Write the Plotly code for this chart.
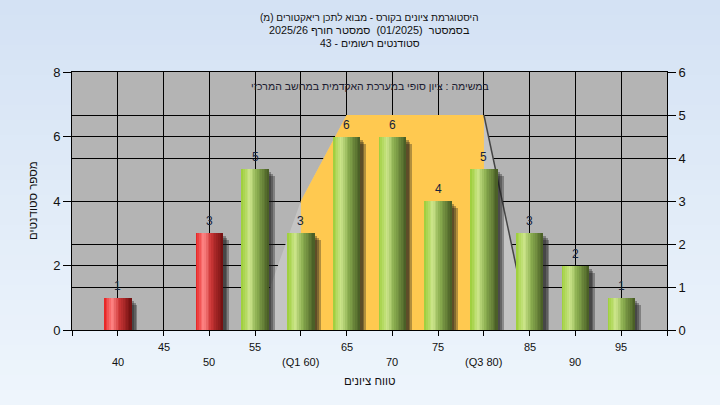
import plotly.graph_objects as go

# ---------------- data ----------------
grades = [40, 45, 50, 55, 60, 65, 70, 75, 80, 85, 90, 95]
counts = [1, 0, 3, 5, 3, 6, 6, 4, 5, 3, 2, 1]
pass_grade = 55

upper_tick_vals = [45, 55, 65, 75, 85, 95]
upper_tick_text = ["45", "55", "65", "75", "85", "95"]
lower_tick_vals = [40, 50, 60, 70, 80, 90]
lower_tick_text = ["40", "50", "(Q1 60)", "70", "(Q3 80)", "90"]

# right-axis (0..6) background shapes
curve_x = [55, 60, 65, 70, 75, 80, 85]
curve_y = [0, 3, 5, 5, 5, 5, 0]
iqr_x = [60, 65, 70, 75, 80]
iqr_y = [3, 5, 5, 5, 5]
tail_x = [80, 85]
tail_y = [5, 0]

LRM = "\u200e"
title_lines = [
    LRM + "היסטוגרמת ציונים בקורס - מבוא לתכן ריאקטורים (מ)" + LRM,
    "בסמסטר\u00a0 (01/2025)\u00a0 סמסטר חורף 2025/26",
    "סטודנטים רשומים - 43",
]
title_sizes = [10, 10.8, 10.5]
note_text = "במשימה : ציון סופי במערכת האקדמית במחשב המרכזי"
y_title = "מספר סטודנטים"
x_title = "טווח ציונים"

# ---------------- layout geometry ----------------
W, H = 720, 405
L, R, T, B = 72, 53, 72, 75
plot_h = H - T - B
plot_w = W - L - R


def py(p):
    """pixel y (from top) -> paper y"""
    return (H - B - p) / plot_h


def px(p):
    return (p - L) / plot_w


FONT = "Liberation Sans, Arial, DejaVu Sans, sans-serif"

BAR_W = 3.0
N_STRIPS = 16


def lerp(c1, c2, t):
    return tuple(int(round(a + (b - a) * t)) for a, b in zip(c1, c2))


def grad(stops, t):
    for (t0, c0), (t1, c1) in zip(stops, stops[1:]):
        if t <= t1:
            return lerp(c0, c1, (t - t0) / (t1 - t0) if t1 > t0 else 0)
    return stops[-1][1]


green_stops = [(0.0, (155, 205, 55)), (0.3, (205, 230, 140)), (0.55, (140, 175, 80)), (1.0, (70, 90, 36))]
red_stops = [(0.0, (228, 30, 30)), (0.3, (255, 135, 135)), (0.55, (205, 55, 55)), (1.0, (110, 15, 15))]

fig = go.Figure()

# background areas on main (right, 0..6) axis
fig.add_trace(go.Scatter(x=curve_x, y=curve_y, yaxis="y", mode="lines", fill="tozeroy",
                         line=dict(width=0, color="#c4c4c4"), fillcolor="#c4c4c4",
                         hoverinfo="skip", showlegend=False))
fig.add_trace(go.Scatter(x=iqr_x, y=iqr_y, yaxis="y", mode="lines", fill="tozeroy",
                         line=dict(width=0, color="#ffc950"), fillcolor="#ffc950",
                         hoverinfo="skip", showlegend=False))
fig.add_trace(go.Scatter(x=tail_x, y=tail_y, yaxis="y", mode="lines",
                         line=dict(width=1.5, color="#454545"),
                         hoverinfo="skip", showlegend=False))

# shadows (overlay, left axis)
for extra, drop in [(0.65, 0.22), (0.45, 0.16), (0.27, 0.1)]:
    fig.add_trace(go.Bar(x=grades, y=[max(c - drop, 0) for c in counts], yaxis="y2",
                         width=BAR_W + extra - 0.3, offset=-BAR_W / 2 + 0.3,
                         marker=dict(color="rgba(25,25,25,0.33)", line=dict(width=0)),
                         hoverinfo="skip", showlegend=False))

# cylinder bars as overlapping strips
for i in range(N_STRIPS):
    t = (i + 0.5) / N_STRIPS
    cols = []
    for g in grades:
        c = grad(red_stops if g < pass_grade else green_stops, t)
        cols.append("rgb(%d,%d,%d)" % c)
    fig.add_trace(go.Bar(x=grades, y=counts, yaxis="y2",
                         width=BAR_W - i * BAR_W / N_STRIPS,
                         offset=-BAR_W / 2 + i * BAR_W / N_STRIPS,
                         marker=dict(color=cols, line=dict(width=0)),
                         hoverinfo="skip", showlegend=False))

annotations = []
# value labels
for g, c in zip(grades, counts):
    if c > 0:
        annotations.append(dict(x=g, y=c, xref="x", yref="y2", text=str(c), showarrow=False,
                                yshift=12, font=dict(family=FONT, size=12, color="#15233d")))
# x tick labels
for v, t in zip(upper_tick_vals, upper_tick_text):
    annotations.append(dict(x=v, y=py(347), xref="x", yref="paper", text=t, showarrow=False,
                            yanchor="middle", font=dict(family=FONT, size=11, color="#111")))
for v, t in zip(lower_tick_vals, lower_tick_text):
    annotations.append(dict(x=v, y=py(362), xref="x", yref="paper", text=t, showarrow=False,
                            yanchor="middle", font=dict(family=FONT, size=11, color="#111")))
# axis titles
annotations.append(dict(x=0.5, y=py(381), xref="paper", yref="paper", text=x_title, showarrow=False,
                        yanchor="middle", font=dict(family=FONT, size=11.5, color="#111")))
annotations.append(dict(x=px(33), y=0.5, xref="paper", yref="paper", text=y_title, showarrow=False,
                        textangle=-90, xanchor="center", yanchor="middle",
                        font=dict(family=FONT, size=11.5, color="#111")))
# titles
for line, ypix, fs in zip(title_lines, [17, 30, 43], title_sizes):
    annotations.append(dict(x=0.5, y=py(ypix), xref="paper", yref="paper", text=line, showarrow=False,
                            xanchor="center", yanchor="middle",
                            font=dict(family=FONT, size=fs, color="#111")))
annotations.append(dict(x=0.5, y=py(86), xref="paper", yref="paper", text=note_text, showarrow=False,
                        xanchor="center", yanchor="middle",
                        font=dict(family=FONT, size=10.5, color="#1b1b30")))

# background gradient strips + plot bg
shapes = []
n_bg = 27
top_c, bot_c = (212, 226, 244), (238, 245, 252)
for i in range(n_bg):
    y0p = i * H / n_bg
    y1p = (i + 1) * H / n_bg + 1
    c = lerp(top_c, bot_c, i / (n_bg - 1))
    shapes.append(dict(type="rect", xref="paper", yref="paper", x0=px(-5), x1=px(W + 5),
                       y0=py(y1p), y1=py(y0p), fillcolor="rgb(%d,%d,%d)" % c,
                       line=dict(width=0), layer="below"))
shapes.append(dict(type="rect", xref="x domain", yref="y domain", x0=0, x1=1, y0=0, y1=1,
                   fillcolor="#b4b4b4", line=dict(width=0), layer="below"))

axis_common = dict(showgrid=True, gridcolor="black", gridwidth=1, zeroline=False,
                   showline=True, linecolor="black", linewidth=1,
                   ticks="outside", ticklen=8, tickcolor="black",
                   tickfont=dict(family=FONT, size=13, color="#111"))

fig.update_layout(
    width=W, height=H,
    margin=dict(l=L, r=R, t=T, b=B),
    paper_bgcolor="#e3edf8",
    plot_bgcolor="rgba(0,0,0,0)",
    barmode="overlay",
    bargap=0,
    showlegend=False,
    font=dict(family=FONT, size=13, color="#111"),
    xaxis=dict(range=[35, 100], tickvals=[35] + grades + [100], showticklabels=False,
               ticks="outside", ticklen=5, tickcolor="black",
               showgrid=True, gridcolor="black", gridwidth=1,
               showline=True, linecolor="black", linewidth=1, mirror=True, zeroline=False),
    yaxis=dict(range=[0, 6], dtick=1, side="right", **axis_common),
    yaxis2=dict(range=[0, 8], dtick=2, side="left", overlaying="y", **axis_common),
    annotations=annotations,
    shapes=shapes,
)

fig.write_html("out.html",
               config={"displayModeBar": False},
               post_script="document.body.style.margin='0';document.body.style.overflow='hidden';")
